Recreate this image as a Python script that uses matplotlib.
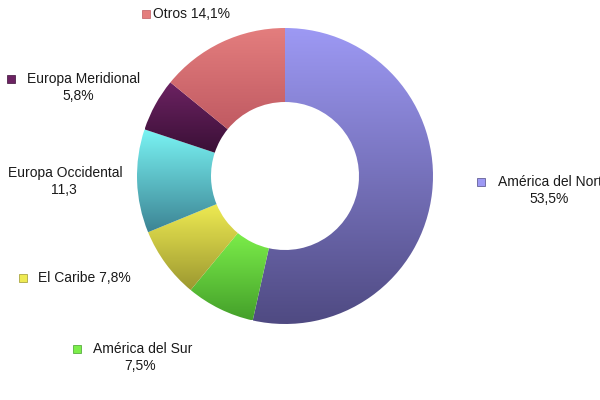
import matplotlib
matplotlib.use("Agg")
import matplotlib.pyplot as plt
import numpy as np
from matplotlib.colors import to_rgb
from matplotlib.patches import Rectangle

plt.rcParams['font.family'] = ['Liberation Sans', 'DejaVu Sans']

regions = ["América del Norte", "América del Sur", "El Caribe",
           "Europa Occidental", "Europa Meridional", "Otros"]
shares = [53.5, 7.5, 7.8, 11.3, 5.8, 14.1]
# light (top) / dark (bottom) shade of each slice
tops = ["#9d99f4", "#7cee4a", "#eeea52", "#7af4f4", "#6c2262", "#e47e7e"]
bottoms = ["#4f4a82", "#44a02a", "#9c9830", "#3c8494", "#3a1036", "#c05a62"]

# label texts (two lines where the reference wraps)
label_lines = [
    ("América del Norte", "53,5%"),
    ("América del Sur", "7,5%"),
    ("El Caribe 7,8%", None),
    ("Europa Occidental", "11,3"),
    ("Europa Meridional", "5,8%"),
    ("Otros 14,1%", None),
]
show_marker = [True, True, True, False, True, True]

fig = plt.figure(figsize=(6, 4), dpi=100, facecolor='white')
ax = fig.add_axes([0, 0, 1, 1])

cx, cy, r = 285, 224, 148
wedges, _ = ax.pie(shares, center=(cx, cy), radius=r, startangle=90,
                   counterclock=False, wedgeprops=dict(width=r * 0.5, linewidth=0),
                   frame=True)
ax.set_xlim(0, 600)
ax.set_ylim(0, 400)
ax.set_aspect('equal')
ax.axis('off')


def gradient(c_top, c_bot, n=256):
    a, b = np.array(to_rgb(c_top)), np.array(to_rgb(c_bot))
    t = np.linspace(0, 1, n)[:, None]
    return (a * (1 - t) + b * t)[:, None, :]


# vertical gradient inside each wedge
for w, ct, cb in zip(wedges, tops, bottoms):
    ext = w.get_path().get_extents()
    w.set_facecolor('none')
    im = ax.imshow(gradient(ct, cb), extent=[ext.x0, ext.x1, ext.y0, ext.y1],
                   origin='upper', aspect='auto', zorder=2)
    im.set_clip_path(w)

# labels: marker centre x, text start x, line y (pixels from top), second line centre x
label_pos = [
    (481, 498, 182, 549),
    (77, 93, 349, 140),
    (23, 38, 278, None),
    (None, 8, 173, 64),
    (11, 27, 79, 78),
    (146, 153, 14, None),
]

for (l1, l2), (mx, tx, ly, cx2), mk, ct, cb in zip(label_lines, label_pos,
                                                   show_marker, tops, bottoms):
    y = 400 - ly
    if mk:
        ax.add_patch(Rectangle((mx - 4, y - 4), 8, 8, facecolor=ct,
                               edgecolor=cb, linewidth=0.5, zorder=3))
    ax.text(tx, y, l1, fontsize=10, color='#1a1a1a', ha='left', va='center',
            clip_on=False)
    if l2:
        ax.text(cx2, y - 17, l2, fontsize=10, color='#1a1a1a', ha='center',
                va='center')

fig.savefig("out.png", dpi=100, facecolor='white')
